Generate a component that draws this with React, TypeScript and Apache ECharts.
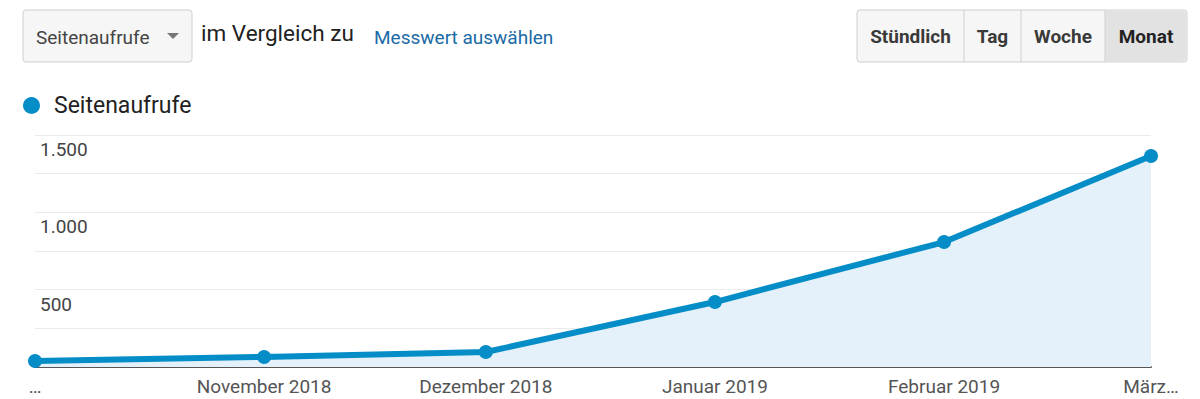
import React, { useEffect, useRef } from "react";
import * as echarts from "echarts";

const dates = ["2018-10-01", "2018-11-01", "2018-12-01", "2019-01-01", "2019-02-01", "2019-03-01"];
const pageViews = [39, 65, 97, 420, 808, 1364];
const monthLabels = ["…", "November 2018", "Dezember 2018", "Januar 2019", "Februar 2019", "März…"];
const yTicks = [500, 1000, 1500];
const seriesName = "Seitenaufrufe";
const granularity = ["Stündlich", "Tag", "Woche", "Monat"];

const toTs = (d: string) => {
  const [y, m, dd] = d.split("-").map(Number);
  return Date.UTC(y, m - 1, dd);
};

const FONT = "Roboto, 'Noto Sans', sans-serif";

export default function App() {
  const ref = useRef<HTMLDivElement>(null);
  useEffect(() => {
    document.body.style.margin = "0";
    if (!ref.current) return;
    const chart = echarts.init(ref.current, undefined, { renderer: "svg" });
    const xs = dates.map(toTs);
    const fmtNum = (v: number) => v.toLocaleString("de-DE");

    const btnBounds = [857, 964, 1021, 1105, 1187];
    const btnGraphics: any[] = [
      {
        type: "rect",
        shape: { x: 857, y: 10, width: 330, height: 52, r: 3 },
        style: { fill: "#f6f6f6", stroke: "#cfcfcf", lineWidth: 1 },
      },
      {
        type: "rect",
        shape: { x: 1105, y: 11, width: 81, height: 50, r: [0, 3, 3, 0] },
        style: { fill: "#e2e2e2" },
      },
    ];
    [964, 1021, 1105].forEach((x) =>
      btnGraphics.push({
        type: "line",
        shape: { x1: x, y1: 10, x2: x, y2: 62 },
        style: { stroke: "#d0d0d0", lineWidth: 1 },
      })
    );
    granularity.forEach((g, i) =>
      btnGraphics.push({
        type: "text",
        x: (btnBounds[i] + btnBounds[i + 1]) / 2,
        y: 36,
        style: {
          text: g,
          fontFamily: FONT,
          fontSize: 19,
          fontWeight: "bold",
          fill: i === 3 ? "#222" : "#3a3a3a",
          align: "center",
          verticalAlign: "middle",
        },
      })
    );

    chart.setOption({
      animation: false,
      textStyle: { fontFamily: FONT },
      legend: {
        left: 18,
        top: 89,
        icon: "circle",
        itemWidth: 17,
        itemHeight: 17,
        textStyle: { fontSize: 23, color: "#222", fontFamily: FONT, padding: [0, 0, 0, 9] },
        data: [seriesName],
      },
      grid: { left: 35, right: 49, top: 135, bottom: 32, containLabel: false },
      xAxis: {
        type: "value",
        min: xs[0],
        max: xs[xs.length - 1],
        splitLine: { show: false },
        axisTick: { show: false },
        axisLine: { show: true, lineStyle: { color: "#555", width: 2 } },
        axisLabel: {
          customValues: xs,
          margin: 10,
          fontSize: 19,
          color: "#555",
          fontFamily: FONT,
          formatter: (v: number) => {
            const i = xs.indexOf(v);
            return i >= 0 ? monthLabels[i] : "";
          },
        },
      },
      yAxis: {
        type: "value",
        min: 0,
        max: 1500,
        interval: 250,
        axisLine: { show: false },
        axisTick: { show: false },
        splitLine: { lineStyle: { color: "#ebebeb", width: 1 } },
        axisLabel: {
          inside: true,
          margin: 5,
          fontSize: 19,
          color: "#444",
          fontFamily: FONT,
          verticalAlign: "top",
          padding: [5, 0, 0, 0],
          formatter: (v: number) => (yTicks.includes(v) ? fmtNum(v) : ""),
        },
      },
      series: [
        {
          name: seriesName,
          type: "line",
          data: xs.map((x, i) => [x, pageViews[i]]),
          color: "#058dc7",
          lineStyle: { color: "#058dc7", width: 6 },
          itemStyle: { color: "#058dc7" },
          symbol: "circle",
          symbolSize: 14,
          areaStyle: { color: "#e4f1fa", opacity: 1 },
          z: 3,
        },
      ],
      graphic: [
        {
          type: "rect",
          shape: { x: 23, y: 10, width: 169, height: 52, r: 3 },
          style: { fill: "#f6f6f6", stroke: "#cfcfcf", lineWidth: 1 },
        },
        {
          type: "text",
          x: 36,
          y: 37,
          style: {
            text: "Seitenaufrufe",
            fontFamily: FONT,
            fontSize: 19,
            fill: "#444",
            verticalAlign: "middle",
          },
        },
        {
          type: "polygon",
          shape: { points: [[167, 33], [179, 33], [173, 39]] },
          style: { fill: "#777" },
        },
        {
          type: "text",
          x: 201,
          y: 33,
          style: {
            text: "im Vergleich zu",
            fontFamily: FONT,
            fontSize: 22.5,
            fill: "#222",
            verticalAlign: "middle",
          },
        },
        {
          type: "text",
          x: 374,
          y: 37,
          style: {
            text: "Messwert auswählen",
            fontFamily: FONT,
            fontSize: 19,
            fill: "#1a6aa6",
            verticalAlign: "middle",
          },
        },
        ...btnGraphics,
      ],
    });
    return () => chart.dispose();
  }, []);
  return <div ref={ref} style={{ width: 1200, height: 399 }} />;
}
